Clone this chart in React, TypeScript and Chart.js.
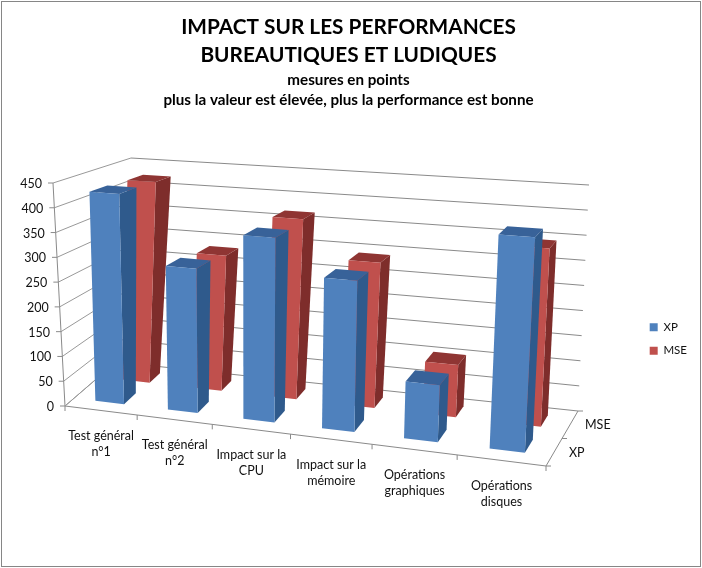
import React, { useEffect, useRef } from "react";
import { Chart, registerables } from "chart.js";

Chart.register(...registerables);

const categories = [
  ["Test général", "n°1"],
  ["Test général", "n°2"],
  ["Impact sur la", "CPU"],
  ["Impact sur la", "mémoire"],
  ["Opérations", "graphiques"],
  ["Opérations", "disques"],
];
const xpValues = [426, 288, 362, 292, 108, 401];
const mseValues = [424, 281, 368, 292, 103, 346];
const valueTicks = [0, 50, 100, 150, 200, 250, 300, 350, 400, 450];
const depthLabels = ["XP", "MSE"];
const titleLines = ["IMPACT SUR LES PERFORMANCES", "BUREAUTIQUES ET LUDIQUES"];
const subtitleLines = ["mesures en points", "plus la valeur est élevée, plus la performance est bonne"];

const FONT = "Lato, 'Open Sans', sans-serif";
const BLUE = ["#4F81BD", "#2F5A8C", "#386299"];
const RED = ["#C0504D", "#7E2D2B", "#8F3533"];
const GRID = "#8A8A8A";
const TEXT = "#111111";

// box corners on the page: [u, depth, height]
const C: Record<string, [number, number]> = {
  "000": [65, 406],
  "100": [546, 466],
  "010": [116, 362],
  "110": [578, 411],
  "001": [53, 183],
  "101": [559, 219],
  "011": [131, 158],
  "111": [589, 185],
};
const warp = (u: number) => u / (u + 1.133 * (1 - u));

function project(u: number, v: number, w: number): [number, number] {
  const res: [number, number] = [0, 0];
  for (const a of [0, 1]) for (const b of [0, 1]) for (const c of [0, 1]) {
    const k = (a ? u : 1 - u) * (b ? v : 1 - v) * (c ? w : 1 - w);
    const p = C[`${a}${b}${c}`];
    res[0] += k * p[0];
    res[1] += k * p[1];
  }
  return res;
}

function line(ctx: CanvasRenderingContext2D, a: [number, number], b: [number, number], color = GRID) {
  ctx.strokeStyle = color;
  ctx.lineWidth = 1;
  ctx.beginPath();
  ctx.moveTo(a[0], a[1]);
  ctx.lineTo(b[0], b[1]);
  ctx.stroke();
}
function face(ctx: CanvasRenderingContext2D, pts: [number, number][], color: string) {
  ctx.fillStyle = color;
  ctx.beginPath();
  pts.forEach((p, i) => (i ? ctx.lineTo(p[0], p[1]) : ctx.moveTo(p[0], p[1])));
  ctx.closePath();
  ctx.fill();
}

const box3d = {
  id: "box3d",
  beforeDraw(chart: any) {
    const { ctx, width, height } = chart;
    ctx.save();
    ctx.fillStyle = "#FFFFFF";
    ctx.fillRect(0, 0, width, height);
    ctx.strokeStyle = "#868686";
    ctx.lineWidth = 1;
    ctx.strokeRect(1.5, 1.5, width - 3, height - 3);
    ctx.restore();
  },
  beforeDatasetsDraw(chart: any) {
    const { ctx, chartArea, scales } = chart;
    const xs = scales.x;
    const ys = scales.y;
    const wOf = (v: number) => (chartArea.bottom - ys.getPixelForValue(v)) / (chartArea.bottom - chartArea.top);
    ctx.save();

    // walls
    valueTicks.forEach((t) => {
      const w = wOf(t);
      const f = project(0, 0, w);
      line(ctx, f, project(0, 1, w), "#999999");
      line(ctx, project(0, 1, w), project(1, 1, w));
      line(ctx, [f[0] - 5, f[1]], f);
      ctx.fillStyle = TEXT;
      ctx.font = `12.5px ${FONT}`;
      ctx.textAlign = "right";
      ctx.textBaseline = "middle";
      ctx.fillText(String(t), f[0] - 11, f[1] + 1);
    });
    line(ctx, project(0, 0, 0), project(0, 0, 1));
    // floor
    line(ctx, project(0, 0, 0), project(1, 0, 0));
    line(ctx, project(1, 0, 0), project(1, 1, 0));
    line(ctx, project(0, 0, 0), project(0, 1, 0), "#999999");
    [0, 0.5, 1].forEach((v) => {
      const p = project(1, v, 0);
      line(ctx, p, [p[0] + 5, p[1]]);
    });
    categories.forEach((lines, i) => {
      const a = project(warp(i / categories.length), 0, 0);
      line(ctx, a, [a[0], a[1] + 5]);
      const m0 = project(warp(i / categories.length), 0, 0);
      const m1 = project(warp((i + 1) / categories.length), 0, 0);
      ctx.fillStyle = TEXT;
      ctx.font = `12.5px ${FONT}`;
      ctx.textAlign = "center";
      ctx.textBaseline = "middle";
      lines.forEach((s, j) => ctx.fillText(s, (m0[0] + m1[0]) / 2, (m0[1] + m1[1]) / 2 + 25.5 + j * 16));
    });
    const e = project(warp(1), 0, 0);
    line(ctx, e, [e[0], e[1] + 5]);
    depthLabels.forEach((s, i) => {
      const p = project(1, 0.25 + i * 0.5, 0);
      ctx.fillStyle = TEXT;
      ctx.font = `12.5px ${FONT}`;
      ctx.textAlign = "left";
      ctx.textBaseline = "middle";
      ctx.fillText(s, p[0] + 15, p[1] + 0.5);
    });

    // bars, back row first
    const span = xs.right - xs.left;
    [1, 0].forEach((ds) => {
      const meta = chart.getDatasetMeta(ds);
      const pal = ds === 0 ? BLUE : RED;
      const v0 = ds === 0 ? 0.18 : 0.66;
      const v1 = v0 + (ds === 0 ? 0.24 : 0.21);
      const shift = ds === 0 ? 0 : 0.005;
      meta.data.forEach((el: any) => {
        const left = (el.x - el.width / 2 - xs.left) / span;
        const right = (el.x + el.width / 2 - xs.left) / span;
        const u0 = warp(left) + shift * (1 - left);
        const u1 = warp(right) + shift * (1 - right);
        const w = (chartArea.bottom - el.y) / (chartArea.bottom - chartArea.top);
        face(ctx, [project(u1, v0, 0), project(u1, v1, 0), project(u1, v1, w), project(u1, v0, w)], pal[1]);
        face(ctx, [project(u0, v0, w), project(u1, v0, w), project(u1, v1, w), project(u0, v1, w)], pal[2]);
        face(ctx, [project(u0, v0, 0), project(u1, v0, 0), project(u1, v0, w), project(u0, v0, w)], pal[0]);
      });
    });
    ctx.restore();
    return false;
  },
};

export default function App() {
  const ref = useRef<HTMLCanvasElement>(null);
  useEffect(() => {
    const chart = new Chart(ref.current as HTMLCanvasElement, {
      type: "bar",
      data: {
        labels: categories.map((c) => c.join(" ")),
        datasets: [
          { label: "XP", data: xpValues, backgroundColor: BLUE[0], borderWidth: 0 },
          { label: "MSE", data: mseValues, backgroundColor: RED[0], borderWidth: 0 },
        ],
      },
      options: {
        responsive: false,
        animation: false,
        devicePixelRatio: 1,
        datasets: { bar: { grouped: false, barPercentage: 0.4, categoryPercentage: 1 } },
        layout: { padding: { right: 5, bottom: 10 } },
        scales: {
          x: { display: false },
          y: { display: false, min: 0, max: 450 },
        },
        plugins: {
          tooltip: { enabled: false },
          title: {
            display: true,
            text: titleLines,
            color: "#000000",
            font: { family: FONT, size: 20.8, weight: "bold", lineHeight: 1.35 },
            padding: { top: 13, bottom: 0 },
          },
          subtitle: {
            display: true,
            text: subtitleLines,
            color: "#000000",
            font: { family: FONT, size: 15.2, weight: "bold", lineHeight: 1.31 },
            padding: { top: 1, bottom: 10 },
          },
          legend: {
            position: "right",
            fullSize: false,
            labels: {
              boxWidth: 8,
              boxHeight: 8,
              padding: 12,
              color: TEXT,
              font: { family: FONT, size: 11.5 },
            },
          },
        },
      },
      plugins: [box3d],
    } as any);
    return () => chart.destroy();
  }, []);
  return (
    <div style={{ position: "fixed", left: 0, top: 0 }}>
      <canvas ref={ref} width={702} height={568} style={{ display: "block" }} />
    </div>
  );
}
